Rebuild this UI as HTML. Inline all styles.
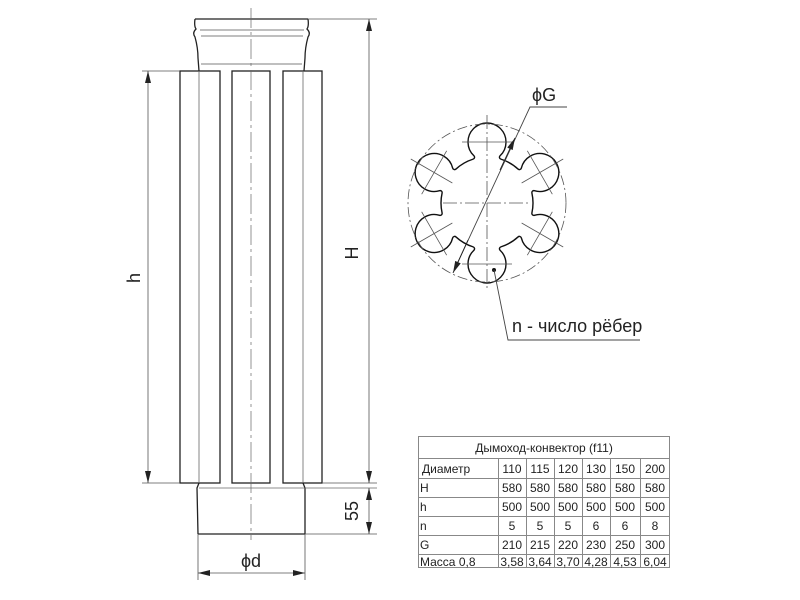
<!DOCTYPE html>
<html><head><meta charset="utf-8"><style>
html,body{margin:0;padding:0;background:#fff;}
svg{display:block;}
text{font-family:"Liberation Sans","DejaVu Sans",sans-serif;fill:#222;}
</style></head><body>
<svg width="800" height="600" viewBox="0 0 800 600" xmlns="http://www.w3.org/2000/svg">
<defs>
<marker id="a" viewBox="0 0 12 6" refX="12" refY="3" markerWidth="12" markerHeight="6" orient="auto-start-reverse" markerUnits="userSpaceOnUse"><path d="M0,0 L12,3 L0,6 z" fill="#222"/></marker>
</defs>
<g stroke="#222" fill="none">
<path d="M195,19 L308,19 M195,19 Q194,26 196,29 Q192,33 195,37 Q198,48 198,58 L199,71 M308,19 Q309,26 307,29 Q311,33 308,37 Q305,48 305,58 L304,71" stroke-width="1.3"/>
<path d="M200,30 L304,30 M201,36 L303,36 M201,64 L302,64" stroke-width="0.8" stroke="#555"/>
<rect x="180" y="71" width="40" height="412" stroke-width="1.3"/>
<rect x="232" y="71" width="38" height="412" stroke-width="1.3"/>
<rect x="283" y="71" width="39" height="412" stroke-width="1.3"/>
<path d="M199,71 L199,483 M303,71 L303,483" stroke-width="0.8" stroke="#666"/>
<path d="M251,8 L251,540" stroke-width="0.7" stroke="#666" stroke-dasharray="20,4,3,4"/>
<path d="M199,483 L197,488 L198,534 M303,483 L305,488 L305,534 M198,534 L305,534" stroke-width="1.3"/>
<path d="M199,488 L377,488" stroke-width="0.8" stroke="#666"/>
<g stroke-width="0.8" stroke="#555">
<path d="M142,71 L180,71 M142,483 L180,483 M308,19 L377,19 M322,483 L377,483 M305,534 L377,534 M198,534 L198,580 M305,534 L305,580"/>
<line x1="148" y1="71" x2="148" y2="483" marker-start="url(#a)" marker-end="url(#a)"/>
<line x1="369" y1="19" x2="369" y2="483" marker-start="url(#a)" marker-end="url(#a)"/>
<line x1="369" y1="488" x2="369" y2="534" marker-start="url(#a)" marker-end="url(#a)"/>
<line x1="198" y1="573" x2="305" y2="573" marker-start="url(#a)" marker-end="url(#a)"/>
</g>
</g>
<text x="0" y="0" font-size="18" transform="translate(140,278) rotate(-90)" text-anchor="middle">h</text>
<text x="0" y="0" font-size="18" transform="translate(358,253) rotate(-90)" text-anchor="middle">H</text>
<text x="0" y="0" font-size="18" transform="translate(358,511) rotate(-90)" text-anchor="middle">55</text>
<text x="251" y="567" font-size="18" text-anchor="middle">ϕd</text>

<g transform="translate(487,203)">
<path fill="#fff" stroke="#111" stroke-width="1.4" d="
M-13.86,-43.86 A2,2 0 0 0 -13.08,-47.22 A19,19 0 1 1 13.08,-47.22 A2,2 0 0 0 13.86,-43.86
A46,46 0 0 1 31.05,-33.93 A2,2 0 0 0 34.35,-34.94 A19,19 0 1 1 47.43,-12.28 A2,2 0 0 0 44.91,-9.93
A46,46 0 0 1 44.91,9.93 A2,2 0 0 0 47.43,12.28 A19,19 0 1 1 34.35,34.94 A2,2 0 0 0 31.05,33.93
A46,46 0 0 1 13.86,43.86 A2,2 0 0 0 13.08,47.22 A19,19 0 1 1 -13.08,47.22 A2,2 0 0 0 -13.86,43.86
A46,46 0 0 1 -31.05,33.93 A2,2 0 0 0 -34.35,34.94 A19,19 0 1 1 -47.43,12.28 A2,2 0 0 0 -44.91,9.93
A46,46 0 0 1 -44.91,-9.93 A2,2 0 0 0 -47.43,-12.28 A19,19 0 1 1 -34.35,-34.94 A2,2 0 0 0 -31.05,-33.93
A46,46 0 0 1 -13.86,-43.86 Z"/>
<circle r="79" fill="none" stroke="#555" stroke-width="0.8" stroke-dasharray="10,3,2,3"/>
<g stroke="#555" stroke-width="0.8">
<path d="M0,-88 L0,88" stroke-dasharray="14,3,2,3"/>
<path d="M-44,0 L44,0" stroke-dasharray="14,3,2,3"/>
<path d="M-25,-61 L25,-61 M-25,61 L25,61"/>
<g transform="rotate(60)"><path d="M0,-88 L0,-40 M-25,-61 L25,-61"/></g>
<g transform="rotate(120)"><path d="M0,-88 L0,-40 M-25,-61 L25,-61"/></g>
<g transform="rotate(240)"><path d="M0,-88 L0,-40 M-25,-61 L25,-61"/></g>
<g transform="rotate(300)"><path d="M0,-88 L0,-40 M-25,-61 L25,-61"/></g>
</g>
<circle cx="7" cy="67" r="2" fill="#111"/>
</g>
<g stroke="#444" stroke-width="0.9" fill="none">
<path d="M458,262 L530,107 L567,107" />
<path d="M494,270 L508,340 L640,340"/>
</g>
<line x1="468" y1="240" x2="453" y2="273" stroke="#222" stroke-width="0.9" marker-end="url(#a)"/>
<line x1="500" y1="170" x2="515" y2="138" stroke="#222" stroke-width="0.9" marker-end="url(#a)"/>
<text x="532" y="101" font-size="18">ϕG</text>
<text x="512" y="332" font-size="18">n - число рёбер</text>

<g stroke="#888" stroke-width="1" fill="none">
<rect x="418.5" y="436.5" width="251" height="131"/>
<path d="M418,458.5 H670 M418,478.5 H670 M418,497.5 H670 M418,516.5 H670 M418,535.5 H670 M418,554.5 H670"/>
<path d="M498.5,458 V568 M526.5,458 V568 M554.5,458 V568 M582.5,458 V568 M610.5,458 V568 M640.5,458 V568"/>
</g>
<g font-size="12">
<text x="544" y="452" text-anchor="middle">Дымоход-конвектор (f11)</text>
<text x="422" y="473">Диаметр</text>
<text x="420" y="492">H</text>
<text x="420" y="511">h</text>
<text x="420" y="530">n</text>
<text x="420" y="549">G</text>
<text x="420" y="566">Масса 0,8</text>
<g text-anchor="middle">
<text x="512" y="473">110</text><text x="540" y="473">115</text><text x="568" y="473">120</text><text x="596" y="473">130</text><text x="625" y="473">150</text><text x="655" y="473">200</text>
<text x="512" y="492">580</text><text x="540" y="492">580</text><text x="568" y="492">580</text><text x="596" y="492">580</text><text x="625" y="492">580</text><text x="655" y="492">580</text>
<text x="512" y="511">500</text><text x="540" y="511">500</text><text x="568" y="511">500</text><text x="596" y="511">500</text><text x="625" y="511">500</text><text x="655" y="511">500</text>
<text x="512" y="530">5</text><text x="540" y="530">5</text><text x="568" y="530">5</text><text x="596" y="530">6</text><text x="625" y="530">6</text><text x="655" y="530">8</text>
<text x="512" y="549">210</text><text x="540" y="549">215</text><text x="568" y="549">220</text><text x="596" y="549">230</text><text x="625" y="549">250</text><text x="655" y="549">300</text>
<text x="512" y="566">3,58</text><text x="540" y="566">3,64</text><text x="568" y="566">3,70</text><text x="596" y="566">4,28</text><text x="625" y="566">4,53</text><text x="655" y="566">6,04</text>
</g>
</g>
</svg>
</body></html>
